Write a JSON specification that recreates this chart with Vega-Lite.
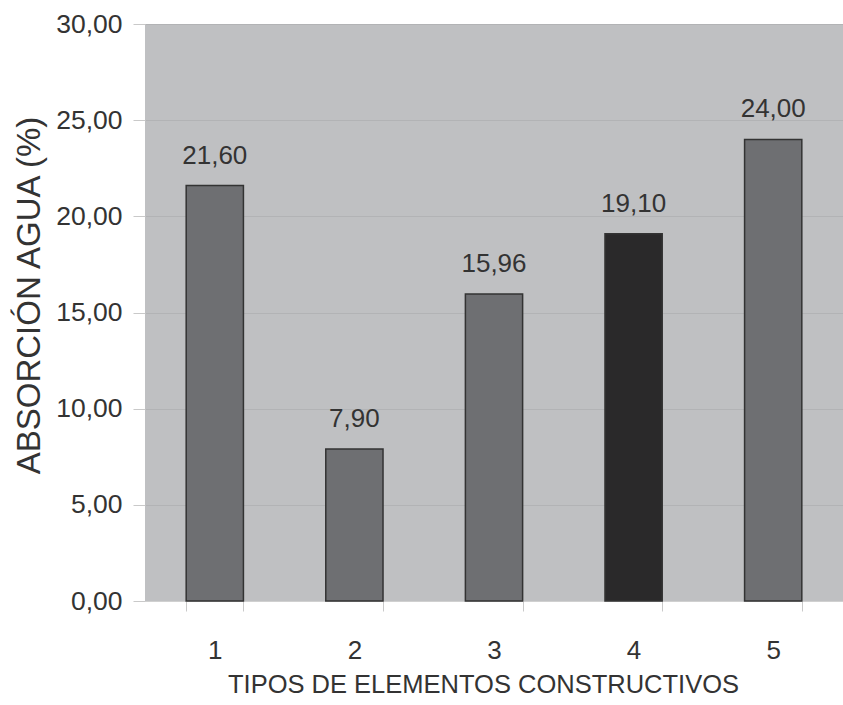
{
  "$schema": "https://vega.github.io/schema/vega-lite/v6.json",
  "autosize": {"type": "none"},
  "padding": {"left": 145, "top": 24, "right": 0, "bottom": 104},
  "width": 698,
  "height": 577,
  "background": "#ffffff",
  "config": {
    "locale": {"number": {"decimal": ",", "thousands": ".", "grouping": [3], "currency": ["", " €"]}},
    "font": "Liberation Sans",
    "view": {"fill": "#bfc0c2", "stroke": null},
    "axis": {
      "labelFont": "Liberation Sans",
      "titleFont": "Liberation Sans",
      "labelColor": "#333333",
      "titleColor": "#333333",
      "titleFontWeight": "normal",
      "tickColor": "#c9c9c9",
      "domainColor": "#d0d0d0"
    }
  },
  "data": {
    "values": [
      {"tipo": "1", "absorcion": 21.60},
      {"tipo": "2", "absorcion": 7.90},
      {"tipo": "3", "absorcion": 15.96},
      {"tipo": "4", "absorcion": 19.10},
      {"tipo": "5", "absorcion": 24.00}
    ]
  },
  "encoding": {
    "x": {
      "field": "tipo",
      "type": "nominal",
      "sort": null,
      "scale": {"paddingInner": 0.59, "paddingOuter": 0.295},
      "axis": {
        "title": "TIPOS DE ELEMENTOS CONSTRUCTIVOS",
        "titleFontSize": 25.5,
        "titleBaseline": "alphabetic",
        "titleX": 338,
        "titleY": 91,
        "labelFontSize": 26,
        "labelAngle": 0,
        "labelBaseline": "alphabetic",
        "labelPadding": 47,
        "tickBand": "extent",
        "tickSize": 10,
        "tickWidth": 1,
        "domain": true
      }
    },
    "y": {
      "field": "absorcion",
      "type": "quantitative",
      "scale": {"domain": [0, 30], "nice": false},
      "axis": {
        "title": "ABSORCIÓN AGUA (%)",
        "titleFontSize": 33,
        "titleBaseline": "middle",
        "titleX": -116,
        "titleY": 271,
        "labelFontSize": 26.5,
        "labelPadding": 11,
        "values": [0, 5, 10, 15, 20, 25, 30],
        "format": ".2f",
        "tickSize": 12,
        "grid": true,
        "gridColor": "#b2b3b5",
        "gridWidth": 1,
        "domain": false
      }
    }
  },
  "layer": [
    {
      "mark": {"type": "bar", "stroke": "#333333", "strokeWidth": 1.5},
      "encoding": {
        "color": {
          "condition": {"test": "datum.tipo === '4'", "value": "#2a292a"},
          "value": "#6e6f72"
        }
      }
    },
    {
      "mark": {"type": "text", "baseline": "alphabetic", "dy": -22, "fontSize": 26, "color": "#333333"},
      "encoding": {
        "text": {"field": "absorcion", "type": "quantitative", "format": ".2f"}
      }
    }
  ]
}
